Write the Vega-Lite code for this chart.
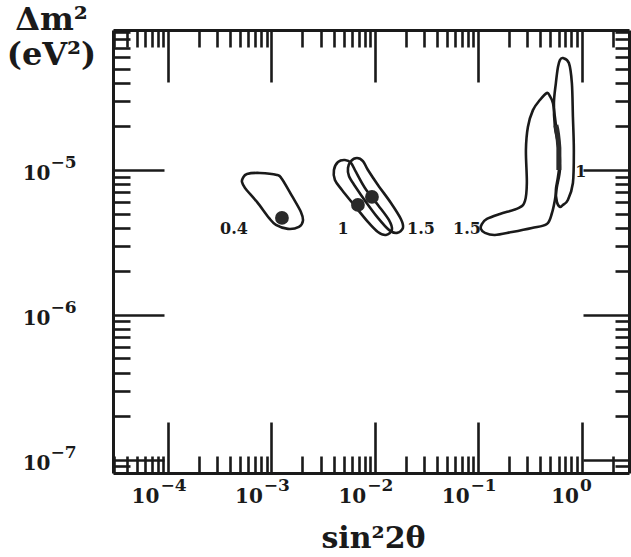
{
  "$schema": "https://vega.github.io/schema/vega-lite/v6.json",
  "width": 516,
  "height": 443,
  "autosize": "none",
  "padding": {"left": 113, "top": 30, "right": 2, "bottom": 84},
  "background": "white",
  "config": {"view": {"stroke": null}},
  "datasets": {
    "contours": [
      {"c": "A", "i": 1, "x": 5.31e-4, "y": 8.81e-6},
      {"c": "A", "i": 2, "x": 5.81e-4, "y": 9.38e-6},
      {"c": "A", "i": 3, "x": 7.76e-4, "y": 9.54e-6},
      {"c": "A", "i": 4, "x": 1.132e-3, "y": 9.24e-6},
      {"c": "A", "i": 5, "x": 1.266e-3, "y": 8.67e-6},
      {"c": "A", "i": 6, "x": 1.582e-3, "y": 6.62e-6},
      {"c": "A", "i": 7, "x": 1.932e-3, "y": 5.13e-6},
      {"c": "A", "i": 8, "x": 2.02e-3, "y": 4.45e-6},
      {"c": "A", "i": 9, "x": 1.849e-3, "y": 4.05e-6},
      {"c": "A", "i": 10, "x": 1.447e-3, "y": 3.92e-6},
      {"c": "A", "i": 11, "x": 1.108e-3, "y": 4.18e-6},
      {"c": "A", "i": 12, "x": 9.48e-4, "y": 4.67e-6},
      {"c": "A", "i": 13, "x": 7.26e-4, "y": 6.02e-6},
      {"c": "A", "i": 14, "x": 5.56e-4, "y": 7.52e-6},
      {"c": "A", "i": 15, "x": 5.20e-4, "y": 8.26e-6},
      {"c": "B", "i": 1, "x": 4.03e-3, "y": 1.0e-5},
      {"c": "B", "i": 2, "x": 4.41e-3, "y": 1.135e-5},
      {"c": "B", "i": 3, "x": 5.15e-3, "y": 1.172e-5},
      {"c": "B", "i": 4, "x": 5.89e-3, "y": 1.118e-5},
      {"c": "B", "i": 5, "x": 6.58e-3, "y": 9.69e-6},
      {"c": "B", "i": 6, "x": 8.04e-3, "y": 7.52e-6},
      {"c": "B", "i": 7, "x": 1.074e-2, "y": 5.74e-6},
      {"c": "B", "i": 8, "x": 1.371e-2, "y": 4.52e-6},
      {"c": "B", "i": 9, "x": 1.466e-2, "y": 3.86e-6},
      {"c": "B", "i": 10, "x": 1.282e-2, "y": 3.56e-6},
      {"c": "B", "i": 11, "x": 1.074e-2, "y": 3.73e-6},
      {"c": "B", "i": 12, "x": 8.59e-3, "y": 4.38e-6},
      {"c": "B", "i": 13, "x": 6.30e-3, "y": 5.74e-6},
      {"c": "B", "i": 14, "x": 4.82e-3, "y": 7.28e-6},
      {"c": "B", "i": 15, "x": 4.12e-3, "y": 8.53e-6},
      {"c": "C", "i": 1, "x": 5.51e-3, "y": 1.032e-5},
      {"c": "C", "i": 2, "x": 5.89e-3, "y": 1.153e-5},
      {"c": "C", "i": 3, "x": 6.73e-3, "y": 1.21e-5},
      {"c": "C", "i": 4, "x": 7.69e-3, "y": 1.153e-5},
      {"c": "C", "i": 5, "x": 8.60e-3, "y": 1.0e-5},
      {"c": "C", "i": 6, "x": 1.074e-2, "y": 7.88e-6},
      {"c": "C", "i": 7, "x": 1.435e-2, "y": 5.92e-6},
      {"c": "C", "i": 8, "x": 1.79e-2, "y": 4.59e-6},
      {"c": "C", "i": 9, "x": 1.875e-2, "y": 3.98e-6},
      {"c": "C", "i": 10, "x": 1.64e-2, "y": 3.68e-6},
      {"c": "C", "i": 11, "x": 1.371e-2, "y": 3.86e-6},
      {"c": "C", "i": 12, "x": 1.074e-2, "y": 4.67e-6},
      {"c": "C", "i": 13, "x": 8.22e-3, "y": 6.02e-6},
      {"c": "C", "i": 14, "x": 6.43e-3, "y": 7.76e-6},
      {"c": "C", "i": 15, "x": 5.63e-3, "y": 9.09e-6},
      {"c": "D", "i": 1, "x": 0.661, "y": 5.92e-5},
      {"c": "D", "i": 2, "x": 0.755, "y": 5.47e-5},
      {"c": "D", "i": 3, "x": 0.807, "y": 3.98e-5},
      {"c": "D", "i": 4, "x": 0.826, "y": 2.32e-5},
      {"c": "D", "i": 5, "x": 0.843, "y": 1.374e-5},
      {"c": "D", "i": 6, "x": 0.826, "y": 8.13e-6},
      {"c": "D", "i": 7, "x": 0.738, "y": 6.21e-6},
      {"c": "D", "i": 8, "x": 0.661, "y": 5.74e-6},
      {"c": "D", "i": 9, "x": 0.618, "y": 5.56e-6},
      {"c": "D", "i": 10, "x": 0.578, "y": 6.02e-6},
      {"c": "D", "i": 11, "x": 0.565, "y": 7.28e-6},
      {"c": "D", "i": 12, "x": 0.592, "y": 8.95e-6},
      {"c": "D", "i": 13, "x": 0.618, "y": 1.172e-5},
      {"c": "D", "i": 14, "x": 0.592, "y": 1.535e-5},
      {"c": "D", "i": 15, "x": 0.553, "y": 1.98e-5},
      {"c": "D", "i": 16, "x": 0.541, "y": 2.90e-5},
      {"c": "D", "i": 17, "x": 0.565, "y": 3.98e-5},
      {"c": "D", "i": 18, "x": 0.592, "y": 5.13e-5},
      {"c": "D", "i": 19, "x": 0.618, "y": 5.74e-5},
      {"c": "E", "i": 1, "x": 0.462, "y": 3.40e-5},
      {"c": "E", "i": 2, "x": 0.396, "y": 3.04e-5},
      {"c": "E", "i": 3, "x": 0.339, "y": 2.59e-5},
      {"c": "E", "i": 4, "x": 0.303, "y": 1.98e-5},
      {"c": "E", "i": 5, "x": 0.290, "y": 1.374e-5},
      {"c": "E", "i": 6, "x": 0.296, "y": 8.13e-6},
      {"c": "E", "i": 7, "x": 0.284, "y": 6.11e-6},
      {"c": "E", "i": 8, "x": 0.248, "y": 5.47e-6},
      {"c": "E", "i": 9, "x": 0.1626, "y": 4.97e-6},
      {"c": "E", "i": 10, "x": 0.1216, "y": 4.59e-6},
      {"c": "E", "i": 11, "x": 0.1089, "y": 4.24e-6},
      {"c": "E", "i": 12, "x": 0.1064, "y": 3.92e-6},
      {"c": "E", "i": 13, "x": 0.1164, "y": 3.68e-6},
      {"c": "E", "i": 14, "x": 0.1454, "y": 3.56e-6},
      {"c": "E", "i": 15, "x": 0.2123, "y": 3.73e-6},
      {"c": "E", "i": 16, "x": 0.331, "y": 3.98e-6},
      {"c": "E", "i": 17, "x": 0.462, "y": 4.24e-6},
      {"c": "E", "i": 18, "x": 0.518, "y": 5.05e-6},
      {"c": "E", "i": 19, "x": 0.553, "y": 6.21e-6},
      {"c": "E", "i": 20, "x": 0.578, "y": 7.64e-6},
      {"c": "E", "i": 21, "x": 0.618, "y": 1.0e-5},
      {"c": "E", "i": 22, "x": 0.604, "y": 1.374e-5},
      {"c": "E", "i": 23, "x": 0.578, "y": 1.80e-5},
      {"c": "E", "i": 24, "x": 0.553, "y": 2.32e-5},
      {"c": "E", "i": 25, "x": 0.529, "y": 2.90e-5},
      {"c": "E", "i": 26, "x": 0.494, "y": 3.24e-5}
    ],
    "dots": [
      {"x": 1.266e-3, "y": 4.67e-6},
      {"x": 6.88e-3, "y": 5.74e-6},
      {"x": 9.40e-3, "y": 6.52e-6}
    ],
    "blob": [
      {"i": 1, "x": 0.565, "y": 2.04e-5},
      {"i": 2, "x": 0.604, "y": 1.42e-5},
      {"i": 3, "x": 0.604, "y": 1.0e-5}
    ],
    "labels": [
      {"lab": "0.4", "x": 4.35e-4, "y": 3.9e-6},
      {"lab": "1", "x": 4.93e-3, "y": 3.9e-6},
      {"lab": "1.5", "x": 2.8e-2, "y": 3.9e-6},
      {"lab": "1.5", "x": 0.078, "y": 3.9e-6},
      {"lab": "1", "x": 0.986, "y": 9.7e-6}
    ]
  },
  "resolve": {"axis": {"x": "independent", "y": "independent"}},
  "layer": [
    {
      "data": {"name": "contours"},
      "mark": {"type": "line", "interpolate": "cardinal-closed", "stroke": "#1a1a1a", "strokeWidth": 2.6},
      "encoding": {
        "x": {
          "field": "x", "type": "quantitative",
          "scale": {"type": "log", "domain": [2.94e-5, 2.88], "nice": false, "zero": false},
          "axis": {
            "orient": "bottom",
            "values": [0.00003, 0.00004, 0.00005, 0.00006, 0.00007, 0.00008, 0.00009, 0.0001, 0.0002, 0.0003, 0.0004, 0.0005, 0.0006, 0.0007, 0.0008, 0.0009, 0.001, 0.002, 0.003, 0.004, 0.005, 0.006, 0.007, 0.008, 0.009, 0.01, 0.02, 0.03, 0.04, 0.05, 0.06, 0.07, 0.08, 0.09, 0.1, 0.2, 0.3, 0.4, 0.5, 0.6, 0.7, 0.8, 0.9, 1, 2],
            "labels": false,
            "tickSize": {"condition": {"test": "round(log(datum.value)/LN10*100) % 100 == 0", "value": -51}, "value": -17},
            "tickWidth": 2.6, "tickColor": "#1a1a1a",
            "domainColor": "#1a1a1a", "domainWidth": 3,
            "grid": false,
            "title": "sin²2θ", "titleFont": "DejaVu Serif", "titleFontWeight": "bold", "titleFontSize": 30, "titleColor": "#1a1a1a",
            "titleBaseline": "alphabetic", "titleY": 74, "titleX": 260, "titleAlign": "center"
          }
        },
        "y": {
          "field": "y", "type": "quantitative",
          "scale": {"type": "log", "domain": [8.1e-8, 9.25e-5], "nice": false, "zero": false},
          "axis": {
            "orient": "left",
            "values": [0.00000009, 0.0000001, 0.0000002, 0.0000003, 0.0000004, 0.0000005, 0.0000006, 0.0000007, 0.0000008, 0.0000009, 0.000001, 0.000002, 0.000003, 0.000004, 0.000005, 0.000006, 0.000007, 0.000008, 0.000009, 0.00001, 0.00002, 0.00003, 0.00004, 0.00005, 0.00006, 0.00007, 0.00008, 0.00009],
            "labels": false,
            "tickSize": {"condition": {"test": "round(log(datum.value)/LN10*100) % 100 == 0", "value": -51}, "value": -17},
            "tickWidth": 2.6, "tickColor": "#1a1a1a",
            "domainColor": "#1a1a1a", "domainWidth": 3,
            "grid": false,
            "title": ["Δm²", "(eV²)"], "titleFont": "DejaVu Serif", "titleFontWeight": "bold", "titleFontSize": 32, "titleColor": "#1a1a1a",
            "titleAngle": 0, "titleAlign": "center", "titleBaseline": "alphabetic", "titleLineHeight": 35,
            "titleX": -62, "titleY": -1
          }
        },
        "detail": {"field": "c"},
        "order": {"field": "i", "type": "quantitative"}
      }
    },
    {
      "data": {"name": "dots"},
      "mark": {"type": "circle", "size": 190, "fill": "#2a2a2a", "opacity": 1},
      "encoding": {
        "x": {
          "field": "x", "type": "quantitative",
          "axis": {
            "orient": "top",
            "values": [0.00003, 0.00004, 0.00005, 0.00006, 0.00007, 0.00008, 0.00009, 0.0001, 0.0002, 0.0003, 0.0004, 0.0005, 0.0006, 0.0007, 0.0008, 0.0009, 0.001, 0.002, 0.003, 0.004, 0.005, 0.006, 0.007, 0.008, 0.009, 0.01, 0.02, 0.03, 0.04, 0.05, 0.06, 0.07, 0.08, 0.09, 0.1, 0.2, 0.3, 0.4, 0.5, 0.6, 0.7, 0.8, 0.9, 1, 2],
            "labels": false, "title": null, "grid": false,
            "tickSize": {"condition": {"test": "round(log(datum.value)/LN10*100) % 100 == 0", "value": -52}, "value": -17},
            "tickWidth": 2.6, "tickColor": "#1a1a1a",
            "domainColor": "#1a1a1a", "domainWidth": 3
          }
        },
        "y": {
          "field": "y", "type": "quantitative",
          "axis": {
            "orient": "right",
            "values": [0.00000009, 0.0000001, 0.0000002, 0.0000003, 0.0000004, 0.0000005, 0.0000006, 0.0000007, 0.0000008, 0.0000009, 0.000001, 0.000002, 0.000003, 0.000004, 0.000005, 0.000006, 0.000007, 0.000008, 0.000009, 0.00001, 0.00002, 0.00003, 0.00004, 0.00005, 0.00006, 0.00007, 0.00008, 0.00009],
            "labels": false, "title": null, "grid": false,
            "tickSize": {"condition": {"test": "round(log(datum.value)/LN10*100) % 100 == 0", "value": -46}, "value": -14},
            "tickWidth": 2.6, "tickColor": "#1a1a1a",
            "domainColor": "#1a1a1a", "domainWidth": 3
          }
        }
      }
    },
    {
      "data": {"name": "blob"},
      "mark": {"type": "line", "stroke": "#2a2a2a", "strokeWidth": 5, "interpolate": "monotone"},
      "encoding": {
        "x": {
          "field": "x", "type": "quantitative",
          "axis": {
            "orient": "bottom",
            "values": [0.0001, 0.001, 0.01, 0.1, 1],
            "labelExpr": "'10'",
            "domain": false, "grid": false, "title": null,
            "ticks": true, "tickSize": 0, "tickWidth": 0, "tickOpacity": 0,
            "labelAlign": "right", "labelBaseline": "top",
            "labelOffset": {"condition": {"test": "datum.value == 1", "value": -3}, "value": -9},
            "labelPadding": 13,
            "labelFont": "DejaVu Serif", "labelFontWeight": "bold", "labelFontSize": 20, "labelColor": "#1a1a1a",
            "labelOverlap": false, "labelFlush": false, "labelBound": false
          }
        },
        "y": {
          "field": "y", "type": "quantitative",
          "axis": {
            "orient": "left",
            "values": [0.0000001, 0.000001, 0.00001],
            "labelExpr": "'10'",
            "domain": false, "grid": false, "title": null,
            "ticks": true, "tickSize": 0, "tickWidth": 0, "tickOpacity": 0,
            "labelAlign": "right", "labelBaseline": "middle",
            "labelOffset": 4,
            "labelPadding": 63,
            "labelFont": "DejaVu Serif", "labelFontWeight": "bold", "labelFontSize": 20, "labelColor": "#1a1a1a",
            "labelOverlap": false, "labelFlush": false, "labelBound": false
          }
        },
        "order": {"field": "i", "type": "quantitative"}
      }
    },
    {
      "data": {"name": "labels"},
      "mark": {"type": "text", "font": "DejaVu Serif", "fontWeight": "bold", "fontSize": 16, "fill": "#1a1a1a", "align": "center", "baseline": "middle"},
      "encoding": {
        "x": {
          "field": "x", "type": "quantitative",
          "axis": {
            "orient": "bottom",
            "values": [0.0001, 0.001, 0.01, 0.1, 1],
            "labelExpr": "datum.value == 0.0001 ? '−4' : datum.value == 0.001 ? '−3' : datum.value == 0.01 ? '−2' : datum.value == 0.1 ? '−1' : '0'",
            "domain": false, "grid": false, "title": null,
            "ticks": true, "tickSize": 0, "tickWidth": 0, "tickOpacity": 0,
            "labelAlign": "left", "labelBaseline": "top",
            "labelOffset": {"condition": {"test": "datum.value == 1", "value": -2}, "value": -8},
            "labelPadding": 4,
            "labelFont": "DejaVu Serif", "labelFontWeight": "bold", "labelFontSize": 17, "labelColor": "#1a1a1a",
            "labelOverlap": false, "labelFlush": false, "labelBound": false
          }
        },
        "y": {
          "field": "y", "type": "quantitative",
          "axis": {
            "orient": "left",
            "values": [0.0000001, 0.000001, 0.00001],
            "labelExpr": "datum.value == 0.00001 ? '−5' : datum.value == 0.000001 ? '−6' : '−7'",
            "domain": false, "grid": false, "title": null,
            "ticks": true, "tickSize": 0, "tickWidth": 0, "tickOpacity": 0,
            "labelAlign": "left", "labelBaseline": "middle",
            "labelOffset": -7,
            "labelPadding": 63,
            "labelFont": "DejaVu Serif", "labelFontWeight": "bold", "labelFontSize": 17, "labelColor": "#1a1a1a",
            "labelOverlap": false, "labelFlush": false, "labelBound": false
          }
        },
        "text": {"field": "lab"}
      }
    }
  ]
}
